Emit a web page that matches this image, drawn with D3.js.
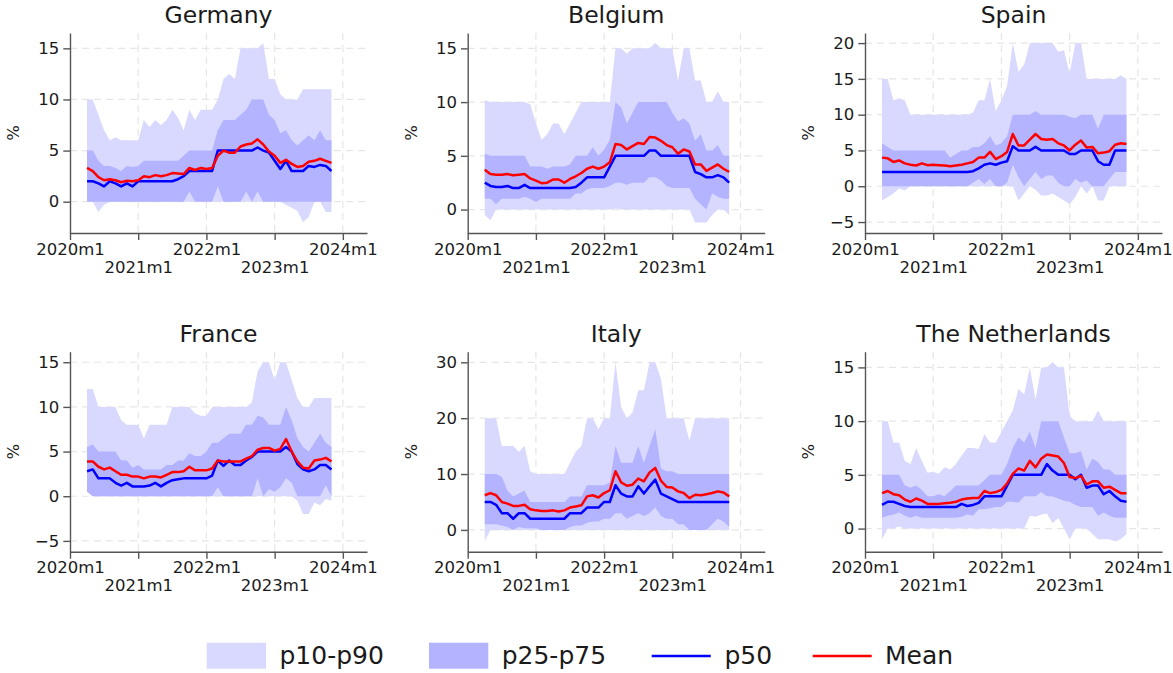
<!DOCTYPE html>
<html>
<head>
<meta charset="utf-8">
<script src="https://cdn.jsdelivr.net/npm/d3@7/dist/d3.min.js"></script>
<style>
  body { margin: 0; background: #fff; }
  svg { display: block; font-family: "DejaVu Sans", sans-serif; }
</style>
</head>
<body>
<svg id="chart" width="1173" height="673"></svg>
<script>
// monthly observations, 2020m4 .. 2023m11
const periods = [
  "2020m4","2020m5","2020m6","2020m7","2020m8","2020m9","2020m10","2020m11","2020m12",
  "2021m1","2021m2","2021m3","2021m4","2021m5","2021m6","2021m7","2021m8","2021m9","2021m10","2021m11","2021m12",
  "2022m1","2022m2","2022m3","2022m4","2022m5","2022m6","2022m7","2022m8","2022m9","2022m10","2022m11","2022m12",
  "2023m1","2023m2","2023m3","2023m4","2023m5","2023m6","2023m7","2023m8","2023m9","2023m10","2023m11"
];

const xTickLabels = ["2020m1", "2021m1", "2022m1", "2023m1", "2024m1"];

// Germany
const deP10  = [0,0,-1,-0.3,0,0,0,0,0,0, 0,0,0,0,0,0,0,0,0,0, 0,0,0,0,0,0,0,0,0,0, 0,0,0,0,0,-0.3,-0.6,-0.9,-2,-1.5, 0,0,-1,-1];
const deP25  = [0,0,0,0,0,0,0,0,0,0, 0,0,0,0,0,0,0,0,1,0, 0,0,0,1.5,0,0,0,0,1,0, 1,0,0,0,0,0,0,0,0,0, 0,0,0,0];
const deP50  = [2,2,1.8,1.5,2,1.8,1.5,1.8,1.5,2, 2,2,2,2,2,2,2.2,2.5,3,3, 3,3,3,5,5,5,5,5,5,5, 5.3,5,4.8,4,3.2,4,3,3,3,3.5, 3.4,3.6,3.5,3];
const deP75  = [5,5,4,3.5,3.5,3.3,3,3.5,3.4,3.5, 4,4,4,4,4,4,4,4.5,5,5, 5,5,5,7,8,8,8,8.5,9,10, 10,10,8.5,8,6.7,7,6,5.5,6,6.5, 6,7,6,6];
const deP90  = [10,10,8.5,7,6,6.3,6,6,6,6, 8,7.3,8,7.5,8,9,8.2,7,9,8, 9,9,9,10,12,12.5,12,15,15,15, 15,15.5,12,12,10.5,10,10,10,11,11, 11,11,11,11];
const deMean = [3.3,3,2.4,2.1,2.2,2.1,1.9,2.05,2,2.1, 2.5,2.4,2.6,2.5,2.6,2.8,2.75,2.7,3.3,3.1, 3.3,3.2,3.3,4.5,5,4.8,4.8,5.4,5.6,5.7, 6.1,5.6,4.9,4.5,3.8,4.1,3.7,3.4,3.5,3.9, 4,4.2,4,3.8];

// Belgium
const beP10  = [-0.5,-1,0,0,0,0,0,0,0,0, 0,0,0,0,0,0,0,0,0,0, 0,0,0,0.1,0,0,0,0,0,0, 0,0,0,0,0,0,0,-1.2,-1.2,-1.2, -0.5,0,0,-0.5];
const beP25  = [1,1,0.5,1,1,1,1,1.2,1,0.7, 1,1,1,1,1,1,1.5,1.5,1.9,2, 2,2,2.2,2.5,2.5,2.3,2.5,2.5,2.5,3, 3,2.7,2.2,2,2,2,2,1,0.5,0, 1.5,1.2,1,1];
const beP50  = [2.5,2.2,2.1,2.1,2.2,2,2,2.3,2,2, 2,2,2,2,2,2,2.1,2.5,3,3, 3,3,4,5,5,5,5,5,5,5.5, 5.5,5,5,5,5,5,5,3.5,3.3,3, 3,3.2,3,2.5];
const beP75  = [5.2,5,5,5,5,5,5,5,4,4, 4,3.8,4,4,4,4.2,5,5,5,5.8, 5,5.6,6.5,10,9.5,8,9,10,10,10, 10,10,10,9,8.2,8.5,8,6.4,7,5.5, 5.5,6,5,5];
const beP90  = [10.2,10,10,10,10,10,10,10,9.8,8, 6.5,7,8,8,7,8,9,10,10,10, 10,10,10,15,15,14.5,15,15,15,15, 15.5,15,15,15,12,15,15,12,12,10, 10,11,10,10];
const beMean = [3.7,3.3,3.25,3.25,3.3,3.2,3.25,3.3,2.9,2.7, 2.45,2.5,2.8,2.8,2.5,2.85,3.1,3.4,3.8,4, 3.8,4,4.4,6.1,6,5.6,5.9,6.2,6.1,6.75, 6.7,6.4,6,5.8,5.2,5.6,5.4,4.2,4.2,3.6, 3.9,4.2,3.8,3.5];

// Spain
const esP10  = [-2,-1.5,-1,-0.3,-0.6,0,0,0,0,0, 0,0,0,0,0,0,0,0,0,0, 0,0,0,0,-2,-1,0,-0.5,-1.3,-1.3, -1,-1.5,-2,-2.5,-1.5,0,-1,0,-2,-2, 0,0,0,0];
const esP25  = [0,0,0,0,0,0,0,0,0,0, 0,0,0,0,0,0,0.5,1,0.3,1, 0,0,0.5,3,1.3,0,1,2,1,1.5, 1.5,0.5,0,0,1,0.5,0.8,0,0,0, 1,2,2,2];
const esP50  = [2,2,2,2,2,2,2,2,2,2, 2,2,2,2,2,2,2.1,2.5,3,3.2, 3,3.3,3.5,5.6,5,5,5,5.5,5,5, 5,5,5,4.5,4.5,5,5,5,3.5,3, 3,5,5,5];
const esP75  = [6,5.5,5,5,5,5,5,5,5,5, 5,5,4,4.5,5,5,5.5,5.5,6,7, 5.7,6,7,10,10,10,10,10.5,10,10, 10,10,10,9.7,9.5,10,10,10,8,10, 10,10,10,10];
const esP90  = [15,15,12,12.3,12,10,10,10,10,10, 10,10,10,10,10,10,10.3,12,12,15, 10.5,12,14,20,16,17,20,20,20,20, 20,18.8,19,15.7,20,20,15,15,15,15, 15,15,15.5,15];
const esMean = [4,3.9,3.4,3.6,3.2,3,2.9,3.2,2.95,3, 2.95,2.9,2.8,2.9,3,3.2,3.4,4,4,4.8, 3.8,4.2,4.8,7.3,5.7,5.7,6.5,7.3,6.6,6.5, 6.6,6,5.7,5,5.8,6.4,5.4,5.5,4.6,4.7, 4.9,5.8,6,5.9];

// France
const frP10  = [0.5,0,0,0,0,0,0,0,0,0, 0,0,0,0,0,0,0,0,0,0, 0,0,0,0,0,0,0,0,0,0, 0,0,0,0,0,0,0,-0.5,-2,-2, -0.7,-1,-0.3,-0.5];
const frP25  = [0.5,0,0,0,0,0,0,0,0,0, 0,0,0,0,0,0,0,0,0,0, 0,0,0,1,0,0,0,0,0,0, 2,0,0.8,0.5,1,2,1.5,0,0,0, 0,0,1.2,0];
const frP50  = [2.8,3,2,2,2,1.5,1.2,1.5,1.1,1.1, 1.1,1.2,1.5,1.1,1.5,1.8,1.9,2,2,2, 2,2,2.3,4,3.4,4,3.5,3.5,4,4.4, 5,5,5,5,5,5.5,5,3.6,3,2.8, 3,3.5,3.5,3];
const frP75  = [5.5,5.8,5,5,5,5,4,4,3.2,3.5, 3,3,3,3,3.5,3.5,4,4,4.8,4.5, 4.5,5,6,6,6.5,7,7,7,8,8, 9,8.8,8,8,8,10,8.5,6.5,5.5,5, 6,7,6,5.5];
const frP90  = [12,12,10,10,10,10,8.5,8,8,8, 6.5,8,8,8,8,10,10,10,10,9.3, 9,9,10,10,10,10,10,10,10,10.5, 14,15,15,13,15,15,13,11,10,10, 11,11,11,11];
const frMean = [3.9,3.9,3.3,3,3.2,2.8,2.4,2.4,2.2,2.2, 2,2.2,2.2,2.1,2.4,2.7,2.7,2.8,3.3,2.9, 2.9,2.9,3.1,4,3.9,3.9,3.9,3.9,4.2,4.5, 5.2,5.4,5.4,5.1,5.3,6.4,5,3.9,3.2,3.1, 4,4.1,4.3,3.9];

// Italy
const itP10  = [-2,0,0,0,0,0,0,0,0,0, 0,0,0,0,0,0,0,0,0,0, 0,0,0,0,0,0,0,0,0,0, 0,0,0,0,0,0,0,0,0,0, 0,0,0,0];
const itP25  = [1,1,1,0.8,0.5,0,0.5,0.3,0.3,0.3, 0,0,0,0,0,0.5,0.8,0.8,1.3,1.5, 1.5,2,2,3,3,2,2.5,3,2.5,3, 4,2.5,2,2,1,1,0,0,0,0, 1,2,1.5,0.5];
const itP50  = [5,5,4.5,3,3,2,3,3,2,2, 2,2,2,2,2,3,3,3,4,4, 4,5,5,8,6.5,6,6,7.8,6.5,7.8, 9,6.5,6,5.5,5,5,5,5,5,5, 5,5,5,5];
const itP75  = [10,10,10,9.5,7,6,6.5,7,5,5, 5,5,5,5,5,6,6,6,8,8, 8,8,8.5,15,12,12,12,15,12,15, 18,11,10.5,10.5,10,10,10,10,10,10, 10,10,10,10];
const itP90  = [20,20,20,15,15,15,14,15,10.5,10, 10,10,10,10,10,12,14,15,20,20, 18,20,20,30,22,20,21,25,25,30, 30,27,20,20,20,20,16,20,20,20, 20,20,20,20];
const itMean = [6.2,6.6,6.2,5,4.7,4.3,4.3,4.5,3.7,3.5, 3.4,3.4,3.5,3.3,3.5,4,4.2,4.4,6,6.2, 5.8,6.6,7.1,10.5,8.5,7.9,8.1,9.2,8.7,10.3, 11.1,8.8,7.7,7.6,6.9,6.6,5.7,6.3,6.2,6.4, 6.6,6.9,6.7,6];

// The Netherlands
const nlP10  = [-1,0,0,0.2,0,0,0,0,0,0, 0,0,0,0,0,0,0,0,0,0, 0,0,0,0,0,0,1.2,1.1,1.3,1.4, 0.5,1,0,-1,0,0,0,-0.5,-1,-1, -1,-1.2,-1,-0.5];
const nlP25  = [1,1.2,1.3,1.5,1.2,1,1.2,1,1,1, 1,1,1,1,1.1,1.3,1.2,1.8,1.8,1.9, 2,2,2.5,2.5,2.4,3,3,3,3.4,3, 3,2.8,2.6,2.5,2.2,2,2,2,1.2,1.5, 1.2,1,1,1];
const nlP50  = [2.2,2.5,2.5,2.3,2.1,2,2,2,2,2, 2,2,2,2,2.3,2.1,2.2,2.4,3,3, 3,3,4,5,5,5,5,5,5,6, 5.4,5,5,5,4.6,5,3.8,4,4,3.2, 3.5,3,2.6,2.5];
const nlP75  = [5,5,5,5,4,3.8,4,3.6,3,3, 3.2,3,3.5,4,4,4,4,4,4.5,5, 5,5,6,7.5,8.5,8,9,7.5,10,10, 10,10,8.5,7,7,7.2,5.5,6.5,6.2,5.5, 5.5,5,5,5];
const nlP90  = [10,10,8,8,6.3,6,7.5,6.3,5.2,5.3, 5.1,5.7,5.5,6,6.8,7.5,7.5,7.4,8.8,8, 8,9,10,11,13,12.5,15,12,15,15, 15.5,15,15,10.5,10,10,10,10,11,10, 10,10,10,10];
const nlMean = [3.3,3.5,3.2,3.1,2.7,2.5,2.8,2.6,2.3,2.3, 2.3,2.35,2.4,2.5,2.7,2.8,2.85,2.85,3.5,3.3, 3.4,3.6,4.2,5.1,5.6,5.4,6.3,5.7,6.5,6.9, 6.8,6.7,6.1,4.8,4.7,4.9,4.1,4.4,4.4,3.8, 3.9,3.6,3.3,3.3];

const legendLabels = ["p10-p90", "p25-p75", "p50", "Mean"];

// panel settings: series, y range and y ticks
const panels = [
  { title: "Germany", p10: deP10, p25: deP25, p50: deP50, p75: deP75, p90: deP90, mean: deMean, yDomain: [-3.06, 16.5], yTicks: [0, 5, 10, 15] },
  { title: "Belgium", p10: beP10, p25: beP25, p50: beP50, p75: beP75, p90: beP90, mean: beMean, yDomain: [-2.18, 16.43], yTicks: [0, 5, 10, 15] },
  { title: "Spain", p10: esP10, p25: esP25, p50: esP50, p75: esP75, p90: esP90, mean: esMean, yDomain: [-6.53, 21.41], yTicks: [-5, 0, 5, 10, 15, 20] },
  { title: "France", p10: frP10, p25: frP25, p50: frP50, p75: frP75, p90: frP90, mean: frMean, yDomain: [-6.21, 16.18], yTicks: [-5, 0, 5, 10, 15] },
  { title: "Italy", p10: itP10, p25: itP25, p50: itP50, p75: itP75, p90: itP90, mean: itMean, yDomain: [-3.9, 31.9], yTicks: [0, 10, 20, 30] },
  { title: "The Netherlands", p10: nlP10, p25: nlP25, p50: nlP50, p75: nlP75, p90: nlP90, mean: nlMean, yDomain: [-2.15, 16.46], yTicks: [0, 5, 10, 15] }
];

const colors = { outer: "#d9d9ff", inner: "#b3b3ff", p50: "#0000ff", mean: "#ff0000", axis: "#555", grid: "#e6e6e6", text: "#1a1a1a" };

const layout = {
  colLeft: [70, 467.7, 865],
  rowTop: [33, 351.7],
  plotW: 297,
  plotH: 200
};

// "2021m3" -> months since 2020m1
function monthIndex(label) {
  const [y, m] = label.split("m").map(Number);
  return (y - 2020) * 12 + (m - 1);
}

const svg = d3.select("#chart");

function drawPanel(panel, i) {
  const left = layout.colLeft[i % 3];
  const top = layout.rowTop[Math.floor(i / 3)];
  const w = layout.plotW, h = layout.plotH;

  const g = svg.append("g").attr("transform", `translate(${left},${top})`);

  const x = d3.scaleLinear().domain([0, 52.25]).range([0, w]);
  const y = d3.scaleLinear().domain(panel.yDomain).range([h, 0]);

  const rows = periods.map((p, k) => ({
    t: monthIndex(p),
    p10: panel.p10[k], p25: panel.p25[k], p50: panel.p50[k],
    p75: panel.p75[k], p90: panel.p90[k], mean: panel.mean[k]
  }));

  const xTicks = xTickLabels.map(monthIndex);

  // grid
  g.append("g").selectAll("line.h")
    .data(panel.yTicks)
    .enter().append("line")
    .attr("x1", 0).attr("x2", w)
    .attr("y1", d => y(d)).attr("y2", d => y(d))
    .attr("stroke", colors.grid).attr("stroke-width", 1.2)
    .attr("stroke-dasharray", "7,5");

  g.append("g").selectAll("line.v")
    .data(xTicks.slice(1))
    .enter().append("line")
    .attr("x1", d => x(d)).attr("x2", d => x(d))
    .attr("y1", 0).attr("y2", h)
    .attr("stroke", colors.grid).attr("stroke-width", 1.2)
    .attr("stroke-dasharray", "7,5");

  // bands
  const outer = d3.area().x(d => x(d.t)).y0(d => y(d.p10)).y1(d => y(d.p90));
  const inner = d3.area().x(d => x(d.t)).y0(d => y(d.p25)).y1(d => y(d.p75));
  g.append("path").datum(rows).attr("d", outer).attr("fill", colors.outer);
  g.append("path").datum(rows).attr("d", inner).attr("fill", colors.inner);

  // lines
  const lineFor = key => d3.line().x(d => x(d.t)).y(d => y(d[key]));
  g.append("path").datum(rows).attr("d", lineFor("p50"))
    .attr("fill", "none").attr("stroke", colors.p50).attr("stroke-width", 2.5)
    .attr("stroke-linejoin", "round");
  g.append("path").datum(rows).attr("d", lineFor("mean"))
    .attr("fill", "none").attr("stroke", colors.mean).attr("stroke-width", 2.5)
    .attr("stroke-linejoin", "round");

  // y axis
  const yAxis = g.append("g")
    .call(d3.axisLeft(y).tickValues(panel.yTicks).tickSize(6.7).tickSizeOuter(0).tickPadding(4));
  yAxis.select(".domain").attr("stroke", colors.axis).attr("stroke-width", 1.4);
  yAxis.selectAll(".tick line").attr("stroke", colors.axis).attr("stroke-width", 1.4);
  yAxis.selectAll("text")
    .attr("font-family", "DejaVu Sans").attr("font-size", 16.5).attr("fill", colors.text);

  // x axis, labels staggered on two rows
  const xAxis = g.append("g").attr("transform", `translate(0,${h})`)
    .call(d3.axisBottom(x).tickValues(xTicks).tickFormat((d, k) => xTickLabels[k])
      .tickSize(7).tickSizeOuter(0));
  xAxis.select(".domain").attr("stroke", colors.axis).attr("stroke-width", 1.4);
  xAxis.selectAll(".tick line").attr("stroke", colors.axis).attr("stroke-width", 1.4);
  xAxis.selectAll("text")
    .attr("font-family", "DejaVu Sans").attr("font-size", 16.5).attr("fill", colors.text)
    .attr("dy", null)
    .attr("y", (d, k) => (k % 2 === 0 ? 21.5 : 39.5));

  // title
  g.append("text")
    .attr("x", w / 2).attr("y", -10)
    .attr("text-anchor", "middle")
    .attr("font-size", 23.5).attr("fill", colors.text)
    .text(panel.title);

  // y label
  g.append("text")
    .attr("transform", `translate(-56.7,${h / 2}) rotate(-90)`)
    .attr("text-anchor", "middle").attr("dy", "0.36em")
    .attr("font-size", 16.5).attr("fill", colors.text)
    .text("%");
}

panels.forEach(drawPanel);

// legend
const legend = svg.append("g");
const legendItems = [
  { kind: "rect", color: colors.outer, x: 206.7, tx: 279.5 },
  { kind: "rect", color: colors.inner, x: 429, tx: 501.7 },
  { kind: "line", color: colors.p50, x: 651.7, tx: 724.5 },
  { kind: "line", color: colors.mean, x: 812.7, tx: 885 }
];
legendItems.forEach((it, k) => {
  if (it.kind === "rect") {
    legend.append("rect").attr("x", it.x).attr("y", 642.7)
      .attr("width", 59.3).attr("height", 26).attr("fill", it.color);
  } else {
    legend.append("line").attr("x1", it.x).attr("x2", it.x + 59)
      .attr("y1", 656).attr("y2", 656)
      .attr("stroke", it.color).attr("stroke-width", 2.7);
  }
  legend.append("text").attr("x", it.tx).attr("y", 664.3)
    .attr("font-size", 25).attr("fill", colors.text)
    .text(legendLabels[k]);
});
</script>
</body>
</html>
